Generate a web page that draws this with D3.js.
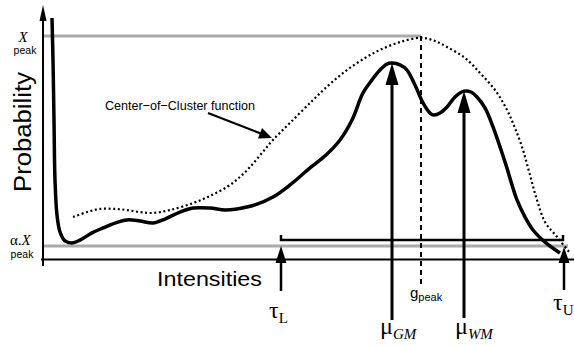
<!DOCTYPE html>
<html>
<head>
<meta charset="utf-8">
<script src="https://cdn.jsdelivr.net/npm/d3@7"></script>
<style>
  body { margin: 0; background: #fff; }
  text { font-family: "Liberation Sans", Arial, sans-serif; }
  .serif { font-family: "Liberation Serif", "Times New Roman", serif; }
</style>
</head>
<body>
<svg id="chart" width="574" height="346"></svg>
<script>
// intensity (0..261) vs probability normalised so that X_peak = 1
const histIntensity = [4.5, 5, 5.5, 6, 7, 8.5, 11, 14.5, 18.5, 24.5, 30, 36, 42, 48.5, 55, 61, 68.5, 75, 83.5, 91, 97, 106, 115,
  123.5, 133.5, 141.5, 148.5, 154.5, 160, 164.5, 168.5, 172, 174.5, 178.5, 182, 186, 190, 193.5, 195.5, 198.5, 202, 206,
  210.5, 214, 217, 221, 225, 231, 237, 241, 245, 251, 258.5];
const histProb = [1.08, 0.893, 0.625, 0.357, 0.201, 0.125, 0.085, 0.076, 0.089, 0.121, 0.143, 0.165, 0.179, 0.174, 0.165, 0.183,
  0.214, 0.232, 0.232, 0.223, 0.228, 0.246, 0.281, 0.335, 0.411, 0.469, 0.536, 0.625, 0.746, 0.804, 0.848, 0.875, 0.879,
  0.871, 0.848, 0.781, 0.701, 0.656, 0.647, 0.656, 0.683, 0.728, 0.754, 0.75, 0.728, 0.679, 0.594, 0.438, 0.268, 0.192,
  0.134, 0.08, 0.031];

const cocIntensity = [15, 22, 28.5, 36, 42, 48.5, 55, 63.5, 75, 83.5, 92, 98.5, 103.5, 109.5, 115, 123.5, 135, 143.5, 152,
  161, 168.5, 178.5, 189, 196, 202, 211, 218.5, 226, 232, 236, 240, 243.5, 247, 251, 257, 263.5];
const cocProb = [0.192, 0.214, 0.228, 0.228, 0.223, 0.214, 0.21, 0.223, 0.254, 0.286, 0.326, 0.371, 0.415, 0.478, 0.536,
  0.612, 0.714, 0.786, 0.848, 0.902, 0.938, 0.973, 0.992, 0.978, 0.951, 0.902, 0.835, 0.759, 0.67, 0.589, 0.491, 0.379,
  0.268, 0.17, 0.103, 0.031];

const xPeak = 1;
const alpha = 0.0625;
const rangeLevel = 0.089;
const tauL = 119, muGM = 174.5, gPeak = 189, muWM = 210.5, tauU = 260.5;
const muGMProb = 0.879, muWMProb = 0.754;

const svg = d3.select("#chart");
const x = d3.scaleLinear().domain([0, 261]).range([43, 565]);
const y = d3.scaleLinear().domain([0, 1]).range([260, 36]);

const grey = "#a9a9a9";

// reference levels
svg.append("line").attr("x1", 43).attr("x2", x(gPeak)).attr("y1", y(xPeak)).attr("y2", y(xPeak))
  .attr("stroke", grey).attr("stroke-width", 3);
svg.append("line").attr("x1", 43).attr("x2", 568).attr("y1", y(alpha)).attr("y2", y(alpha))
  .attr("stroke", grey).attr("stroke-width", 3);

// axes
svg.append("line").attr("x1", 43).attr("x2", 43).attr("y1", 266).attr("y2", 14)
  .attr("stroke", "#000").attr("stroke-width", 2);
svg.append("path").attr("d", "M43,5L39.5,21L46.5,21Z").attr("fill", "#000");
svg.append("line").attr("x1", 41).attr("x2", 574).attr("y1", 259.5).attr("y2", 259.5)
  .attr("stroke", "#000").attr("stroke-width", 2);

// tau range bracket
svg.append("path")
  .attr("d", `M${x(tauL)},${y(rangeLevel) - 5}V${y(rangeLevel)}H${x(tauU) - 1}V${y(rangeLevel) - 5}`)
  .attr("fill", "none").attr("stroke", "#000").attr("stroke-width", 2.5);

// curves
const line = d3.line().x(d => x(d[0])).y(d => y(d[1])).curve(d3.curveCatmullRom.alpha(0.5));
svg.append("path").datum(d3.zip(cocIntensity, cocProb)).attr("d", line)
  .attr("fill", "none").attr("stroke", "#000").attr("stroke-width", 2.2).attr("stroke-dasharray", "2,2.6");
svg.append("path").datum(d3.zip(histIntensity, histProb)).attr("d", line)
  .attr("fill", "none").attr("stroke", "#000").attr("stroke-width", 3.5).attr("stroke-linejoin", "round");

// g_peak dashed line
svg.append("line").attr("x1", x(gPeak)).attr("x2", x(gPeak)).attr("y1", y(xPeak)).attr("y2", 286)
  .attr("stroke", "#000").attr("stroke-width", 2).attr("stroke-dasharray", "5,4");

// arrows
function arrow(xv, tipY, bottom, headLen, headW, sw) {
  const px = x(xv);
  svg.append("line").attr("x1", px).attr("x2", px).attr("y1", tipY + headLen - 1).attr("y2", bottom)
    .attr("stroke", "#000").attr("stroke-width", sw);
  svg.append("path").attr("d", `M${px},${tipY}L${px - headW / 2},${tipY + headLen}L${px + headW / 2},${tipY + headLen}Z`)
    .attr("fill", "#000");
}
arrow(tauL, y(alpha), 291, 17, 11, 2.5);
arrow(tauU, y(alpha) + 1, 290, 16, 11, 2.5);
arrow(muGM, y(muGMProb), 320, 22, 13, 3);
arrow(muWM, y(muWMProb), 318, 22, 13, 3);

// Center-of-Cluster annotation
svg.append("line").attr("x1", 208).attr("x2", 262).attr("y1", 113).attr("y2", 134)
  .attr("stroke", "#000").attr("stroke-width", 2.2);
svg.append("path").attr("d", "M272,138L258,138.5L262,128Z").attr("fill", "#000");
svg.append("text").attr("x", 105).attr("y", 110).attr("font-size", 13.5)
  .attr("textLength", 150).attr("lengthAdjust", "spacingAndGlyphs")
  .text("Center\u2212of\u2212Cluster function");

// axis titles
svg.append("text").attr("transform", "translate(31,192) rotate(-90)").attr("font-size", 23)
  .attr("textLength", 120).attr("lengthAdjust", "spacingAndGlyphs").text("Probability");
svg.append("text").attr("x", 157).attr("y", 286).attr("font-size", 21)
  .attr("textLength", 105).attr("lengthAdjust", "spacingAndGlyphs").text("Intensities");

// y level labels
svg.append("text").attr("class", "serif").attr("x", 23).attr("y", y(xPeak) + 6).attr("font-size", 15)
  .attr("font-style", "italic").attr("text-anchor", "middle").text("X");
svg.append("text").attr("x", 25).attr("y", y(xPeak) + 18).attr("font-size", 10.5).attr("text-anchor", "middle").text("peak");
const ax = svg.append("text").attr("class", "serif").attr("x", 10).attr("y", y(alpha) - 1).attr("font-size", 15);
ax.append("tspan").text("\u03b1.");
ax.append("tspan").attr("font-style", "italic").text("X");
svg.append("text").attr("x", 22).attr("y", y(alpha) + 12).attr("font-size", 10.5).attr("text-anchor", "middle").text("peak");

// bottom labels
function greekLabel(px, base, sym, sub, subStyle) {
  const t = svg.append("text").attr("class", "serif").attr("x", px).attr("y", base).attr("font-size", 24);
  t.append("tspan").text(sym);
  t.append("tspan").attr("font-size", 15).attr("dy", 5).attr("font-style", subStyle).text(sub);
}
greekLabel(x(tauL) - 12, 318, "\u03c4", "L", "normal");
greekLabel(x(tauU) - 11, 310, "\u03c4", "U", "normal");
greekLabel(x(muGM) - 12, 334, "\u03bc", "GM", "italic");
greekLabel(x(muWM) - 9, 334, "\u03bc", "WM", "italic");

const gl = svg.append("text").attr("x", x(gPeak) - 11).attr("y", 298).attr("font-size", 15);
gl.append("tspan").text("g");
gl.append("tspan").attr("font-size", 11).attr("dy", 3).text("peak");
</script>
</body>
</html>
